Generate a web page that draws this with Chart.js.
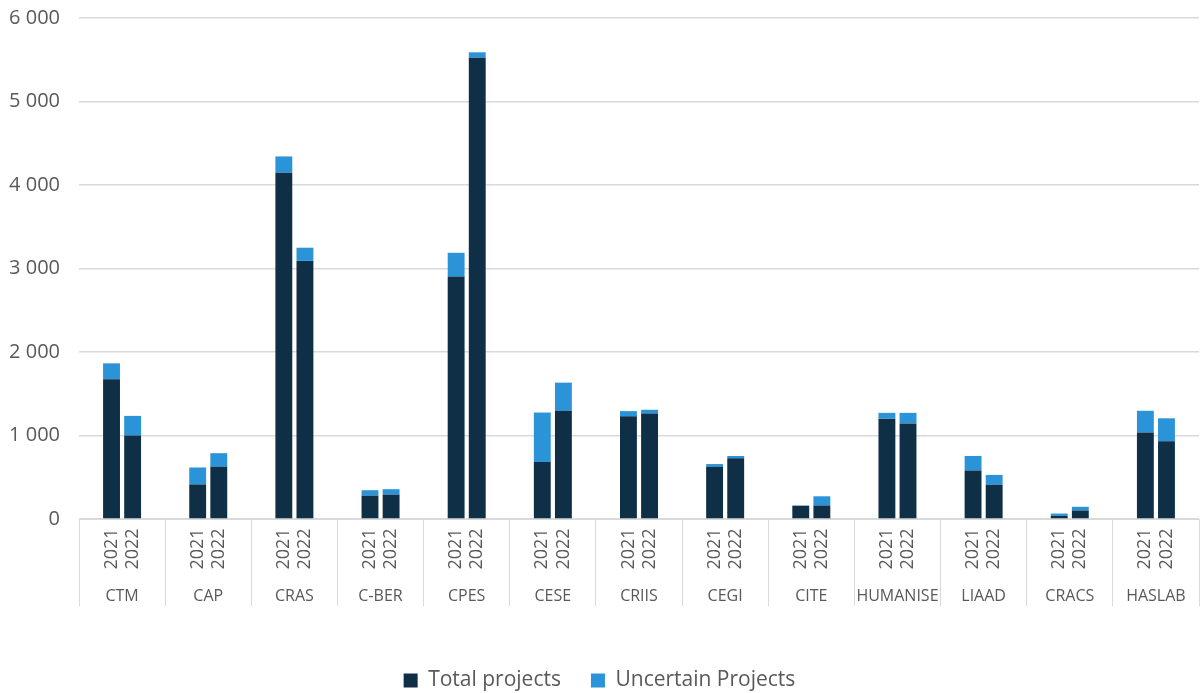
<!DOCTYPE html>
<html>
<head>
<meta charset="utf-8">
<script src="https://cdn.jsdelivr.net/npm/chart.js@4"></script>
<style>
  html, body { margin: 0; padding: 0; background: #fff; }
  #wrap { width: 1200px; height: 693px; }
</style>
</head>
<body>
<div id="wrap"><canvas id="grafico"></canvas></div>
<script>
// Projectos por centro, 2021 e 2022

var centros = ['CTM', 'CAP', 'CRAS', 'C-BER', 'CPES', 'CESE', 'CRIIS', 'CEGI', 'CITE', 'HUMANISE', 'LIAAD', 'CRACS', 'HASLAB'];
var anos = ['2021', '2022'];
var total2021 = [1673, 414, 4147, 280, 2904, 682, 1231, 625, 158, 1202, 581, 37, 1036];
var incertos2021 = [191, 203, 195, 65, 284, 593, 61, 33, 4, 69, 174, 28, 260];
var total2022 = [1000, 625, 3091, 292, 5524, 1296, 1263, 727, 162, 1145, 410, 102, 930];
var incertos2022 = [235, 163, 158, 65, 65, 337, 45, 28, 110, 126, 118, 44, 276];
var yTicks = [0, 1000, 2000, 3000, 4000, 5000, 6000];

var corEscura = '#0F2F47';
var corClara = '#2B93D8';
var corTexto = '#595959';
var corGrelha = '#d9d9d9';

function formatar(v) {
    return String(v).replace(/\B(?=(\d{3})+(?!\d))/g, ' ');
}

// etiquetas de dois niveis (ano + centro) por baixo do eixo
var etiquetasEixo = {
    id: 'etiquetasEixo',
    afterDraw: function(chart) {
        var ctx = chart.ctx;
        var x = chart.scales.x;
        var base = chart.chartArea.bottom;
        var meta2021 = chart.getDatasetMeta(0);
        var meta2022 = chart.getDatasetMeta(2);
        ctx.save();
        ctx.fillStyle = corTexto;
        ctx.textAlign = 'center';
        ctx.textBaseline = 'middle';
        centros.forEach(function(c, i) {
            [meta2021, meta2022].forEach(function(meta, k) {
                var bx = meta.data[i].x;
                ctx.save();
                ctx.translate(bx, base + 30);
                ctx.rotate(-Math.PI / 2);
                ctx.font = '18px "Open Sans"';
                ctx.fillText(anos[k], 0, 0);
                ctx.restore();
            });
            ctx.font = '16px "Open Sans"';
            ctx.fillText(c, x.getPixelForValue(i), base + 77);
        });
        ctx.restore();
    }
};

const ctx = document.getElementById('grafico').getContext('2d');
const grafico = new Chart(ctx, {
    type: 'bar',
    data: {
        labels: centros,
        datasets: [{
            label: 'Total projects',
            data: total2021,
            backgroundColor: corEscura,
            stack: '2021'
        }, {
            label: 'Uncertain Projects',
            data: incertos2021,
            backgroundColor: corClara,
            stack: '2021'
        }, {
            label: 'Total projects',
            data: total2022,
            backgroundColor: corEscura,
            stack: '2022'
        }, {
            label: 'Uncertain Projects',
            data: incertos2022,
            backgroundColor: corClara,
            stack: '2022'
        }]
    },
    options: {
        responsive: true,
        maintainAspectRatio: false,
        animation: false,
        categoryPercentage: 0.49,
        barPercentage: 0.8,
        layout: { padding: { top: 18, right: 1, left: 0, bottom: -8 } },
        plugins: {
            tooltip: { enabled: false },
            legend: {
                position: 'bottom',
                labels: {
                    filter: function(item) { return item.datasetIndex < 2; },
                    color: corTexto,
                    font: { family: 'Open Sans', size: 21 },
                    boxWidth: 14,
                    boxHeight: 14,
                    padding: 30
                }
            }
        },
        scales: {
            x: {
                stacked: true,
                grid: {
                    offset: true,
                    drawOnChartArea: false,
                    tickLength: 87,
                    color: corGrelha
                },
                border: { display: true, color: corGrelha },
                ticks: { display: false },
                afterFit: function(scale) { scale.height = 121; }
            },
            y: {
                stacked: true,
                min: 0,
                max: 6000,
                afterBuildTicks: function(scale) {
                    scale.ticks = yTicks.map(function(v) { return { value: v }; });
                },
                grid: { color: corGrelha, drawTicks: false, lineWidth: 1.5 },
                border: { display: false },
                ticks: {
                    color: corTexto,
                    font: { family: 'Open Sans', size: 20 },
                    padding: 19,
                    callback: function(v) { return formatar(v); }
                },
                afterFit: function(scale) {
                    scale.width = 79;
                    scale.paddingTop = 0;
                    scale.paddingBottom = 0;
                }
            }
        }
    },
    plugins: [etiquetasEixo]
});
</script>
</body>
</html>
